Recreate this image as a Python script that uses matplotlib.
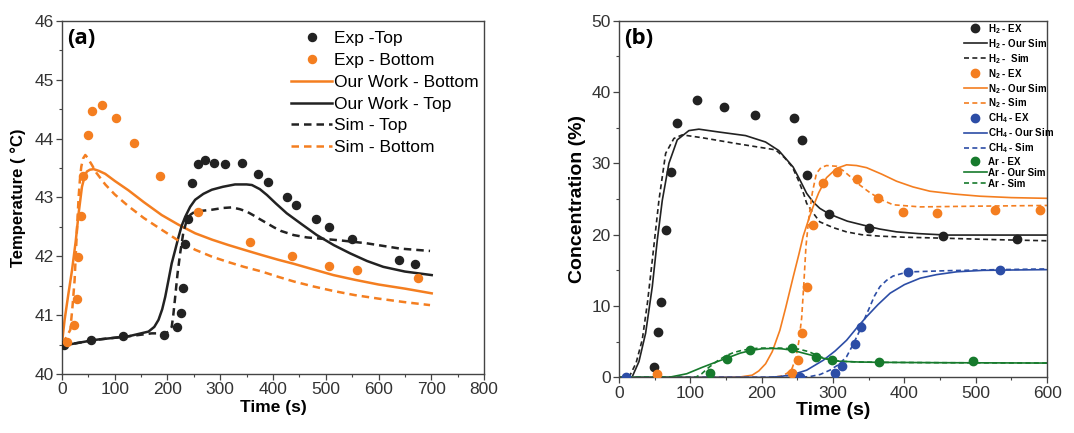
import matplotlib
matplotlib.use('Agg')
import matplotlib.pyplot as plt
from matplotlib.ticker import MultipleLocator

plt.rcParams['font.family'] = ['Liberation Sans', 'DejaVu Sans']
plt.rcParams['mathtext.fontset'] = 'custom'
plt.rcParams['mathtext.rm'] = 'Liberation Sans'
plt.rcParams['mathtext.bf'] = 'Liberation Sans:bold'

ORANGE = '#F47E20'
BLACK = '#222222'
BLUE = '#2C4DA6'
GREEN = '#167A2C'

# ---- panel (a): temperature ----
exp_top_t = [3, 55, 115, 194, 218, 225, 229, 234, 238, 247, 258, 271, 288, 309, 342,
             372, 390, 427, 444, 481, 507, 549, 639, 670]
exp_top_T = [40.49, 40.58, 40.65, 40.66, 40.80, 41.04, 41.46, 42.20, 42.63, 43.25, 43.56,
             43.63, 43.58, 43.57, 43.58, 43.40, 43.26, 43.00, 42.87, 42.64, 42.49, 42.29,
             41.94, 41.87]
exp_bot_t = [10, 23, 28, 30, 36, 39, 48.6, 57.5, 75.8, 101.6, 135.7, 185, 257.6, 356.7,
             436, 505.7, 558.7, 675.5]
exp_bot_T = [40.55, 40.83, 41.27, 41.98, 42.68, 43.36, 44.06, 44.47, 44.57, 44.35, 43.92,
             43.37, 42.76, 42.25, 42.00, 41.84, 41.76, 41.63]

our_bot_t = [0, 5, 12, 19, 26, 31.6, 37.9, 43, 47.3, 53, 60, 70, 82, 100, 126, 155, 189,
             220, 252.5, 285, 315.6, 345, 378.8, 410, 440, 475, 514.5, 555, 600, 650, 700.8]
our_bot_T = [40.52, 40.92, 41.35, 41.76, 42.25, 42.73, 43.18, 43.36, 43.44, 43.47, 43.48,
             43.45, 43.40, 43.28, 43.12, 42.92, 42.70, 42.54, 42.39, 42.28, 42.19, 42.11,
             42.02, 41.94, 41.87, 41.78, 41.68, 41.60, 41.52, 41.45, 41.37]
sim_bot_t = [0, 8, 15.8, 20, 24, 28.4, 31.6, 34, 36.6, 40, 44.2, 48, 52, 56.8, 65, 82,
             100, 126, 155, 189, 220, 252.5, 285, 315.6, 345, 378.8, 410, 440, 475, 514.5,
             555, 600, 650, 697.6]
sim_bot_T = [40.52, 40.62, 40.75, 41.15, 41.60, 42.45, 43.01, 43.30, 43.52, 43.66, 43.72,
             43.68, 43.62, 43.55, 43.42, 43.22, 43.05, 42.85, 42.65, 42.45, 42.27, 42.11,
             41.99, 41.90, 41.82, 41.74, 41.65, 41.57, 41.49, 41.41, 41.34, 41.28, 41.22,
             41.17]

our_top_t = [0, 63, 126, 164, 175, 183, 190, 195.7, 202, 208, 215, 221, 227, 233.6, 243,
             252.5, 268, 284, 305, 328, 350, 360, 375, 388.6, 405, 426, 455, 483, 515,
             546, 578, 609, 650, 700.8]
our_top_T = [40.48, 40.58, 40.64, 40.72, 40.80, 40.92, 41.10, 41.31, 41.60, 41.88, 42.12,
             42.33, 42.52, 42.67, 42.84, 42.96, 43.06, 43.13, 43.18, 43.22, 43.22, 43.21,
             43.14, 43.04, 42.90, 42.73, 42.54, 42.36, 42.19, 42.05, 41.92, 41.82, 41.74,
             41.68]
sim_top_t = [0, 63, 126, 170, 195.7, 202, 208, 211, 214.6, 219, 224, 230, 236.7, 244,
             252.5, 284, 305, 322, 337, 350, 362, 375, 388.6, 402, 415, 439, 464, 489, 527,
             577.6, 641, 697.6]
sim_top_T = [40.48, 40.58, 40.64, 40.69, 40.69, 40.72, 40.80, 41.0, 41.31, 41.70, 42.05,
             42.40, 42.62, 42.71, 42.76, 42.79, 42.82, 42.83, 42.80, 42.76, 42.70, 42.63,
             42.56, 42.49, 42.43, 42.36, 42.32, 42.30, 42.27, 42.22, 42.13, 42.09]

# ---- panel (b): concentration ----
h2_ex_t = [48.6, 55, 58.4, 65.8, 72.8, 80.8, 108.8, 147.5, 191, 245, 256, 263, 293.7,
           349.7, 453.4, 558]
h2_ex_c = [1.5, 6.4, 10.5, 20.6, 28.8, 35.6, 38.9, 37.85, 36.8, 36.4, 33.3, 28.4, 22.85,
           20.9, 19.86, 19.4]
h2_our_t = [18.7, 28, 37.4, 46.7, 53.7, 60.7, 70, 81.7, 98, 112, 140, 177.4, 205.4, 224,
            244, 254, 263, 272, 281.4, 293, 304.7, 320, 342, 365, 389, 420, 459, 520, 600]
h2_our_c = [0.1, 2.2, 6.2, 12.7, 19.2, 24.8, 30.0, 33.3, 34.6, 34.8, 34.4, 33.9, 33.0,
            31.8, 29.5, 27.6, 25.8, 24.6, 23.7, 23.0, 22.5, 21.9, 21.35, 20.8, 20.4, 20.15,
            19.95, 19.95, 19.95]
h2_sim_t = [14, 24, 32.7, 40, 46.7, 56, 65.4, 77, 88.7, 116.7, 163.4, 219.5, 232, 243,
            252, 259, 263, 271, 281.4, 300, 318.7, 340, 365.4, 400, 459, 530, 600]
h2_sim_c = [0, 2.0, 5.3, 10.5, 16.4, 24.8, 31.4, 33.5, 34.0, 33.6, 32.8, 31.9, 30.8,
            29.5, 27.5, 25.7, 24.4, 23.2, 21.8, 21.0, 20.4, 20.0, 19.8, 19.65, 19.5, 19.3,
            19.15]

n2_ex_t = [53.7, 242, 251, 256, 263, 271.7, 285.7, 306, 334, 363, 398, 445, 527, 589.7]
n2_ex_c = [0.47, 0.56, 2.43, 6.26, 12.66, 21.4, 27.3, 28.8, 27.8, 25.2, 23.2, 23.0, 23.46,
           23.46]
n2_our_t = [0, 150, 170, 186.7, 196, 205.5, 214.8, 225.5, 233.5, 244.2, 252, 258.2, 266,
            272, 280, 290.9, 305, 319, 333, 347, 368, 389, 412, 435.6, 470, 505.6, 550, 600]
n2_our_c = [0, 0, 0.05, 0.3, 0.9, 1.9, 3.6, 6.6, 9.7, 14.1, 17.2, 19.8, 22.2, 23.9, 25.9,
            28.0, 29.3, 29.8, 29.7, 29.4, 28.5, 27.5, 26.7, 26.1, 25.7, 25.4, 25.2, 25.1]
n2_sim_t = [0, 215, 228.8, 236, 242.8, 248, 252, 256, 259, 262, 266, 271, 276.7, 283,
            290.9, 305, 314, 323.5, 337, 351.6, 368, 384, 422, 500, 600]
n2_sim_c = [0, 0, 0.2, 0.6, 1.3, 2.8, 5.0, 8.3, 13.0, 18.3, 22.3, 25.9, 28.6, 29.4, 29.7,
            29.6, 29.0, 28.2, 27.0, 25.9, 24.9, 24.2, 23.9, 24.0, 24.1]

ch4_ex_t = [9.3, 253.5, 303, 313, 330.6, 339, 404.4, 534]
ch4_ex_c = [0, 0.1, 0.56, 1.6, 4.7, 7.06, 14.8, 15.05]
ch4_our_t = [0, 207, 225.5, 244, 263, 286.4, 303, 319, 333, 347, 363, 380, 400, 422, 445,
             473.5, 510, 550, 600]
ch4_our_c = [0, 0, 0.1, 0.4, 1.0, 2.4, 3.7, 5.2, 6.9, 8.5, 10.2, 11.8, 13.0, 13.9, 14.4,
             14.8, 15.0, 15.05, 15.1]
ch4_sim_t = [0, 250, 267.5, 282, 295.5, 308, 319, 328, 337.6, 345, 351.6, 358, 365.6,
             375, 384, 398, 412, 459, 530, 600]
ch4_sim_c = [0, 0, 0.1, 0.4, 1.0, 1.8, 2.9, 4.6, 6.6, 8.4, 9.9, 11.4, 12.7, 13.6, 14.2,
             14.6, 14.8, 14.95, 15.1, 15.2]

ar_ex_t = [127.5, 152, 183.5, 243, 276, 299, 364.7, 496]
ar_ex_c = [0.56, 2.57, 3.83, 4.1, 2.8, 2.4, 2.2, 2.24]
ar_our_t = [0, 70, 95, 116.7, 135, 154, 170, 186.8, 200, 214.8, 228, 243, 262, 281.4,
            296, 309.5, 335, 365.6, 450, 600]
ar_our_c = [0, 0, 0.5, 1.4, 2.1, 2.8, 3.4, 3.8, 4.0, 4.05, 4.0, 3.8, 3.3, 2.8, 2.45,
            2.25, 2.15, 2.1, 2.05, 2.0]
ar_sim_t = [0, 107.4, 116, 126, 138, 149.4, 160, 172.8, 196, 225, 252, 266, 281.4, 296,
            309.5, 335, 365.6, 450, 600]
ar_sim_c = [0, 0, 0.5, 1.4, 2.3, 3.0, 3.45, 3.8, 4.1, 4.1, 3.95, 3.6, 2.9, 2.45, 2.25,
            2.15, 2.1, 2.05, 2.0]

fig = plt.figure(figsize=(10.74, 4.33), dpi=100)
ax1 = fig.add_axes([0.0577, 0.1363, 0.393, 0.8157])
ax2 = fig.add_axes([0.5763, 0.1286, 0.3987, 0.8234])

dash = (0, (3, 2))

# panel a
ax1.plot(exp_top_t, exp_top_T, 'o', color=BLACK, ms=5.8, label='Exp -Top', zorder=4)
ax1.plot(exp_bot_t, exp_bot_T, 'o', color=ORANGE, ms=5.8, label='Exp - Bottom', zorder=4)
ax1.plot(our_bot_t, our_bot_T, '-', color=ORANGE, lw=1.8, label='Our Work - Bottom')
ax1.plot(our_top_t, our_top_T, '-', color=BLACK, lw=1.8, label='Our Work - Top')
ax1.plot(sim_top_t, sim_top_T, color=BLACK, lw=1.8, ls=dash, label='Sim - Top')
ax1.plot(sim_bot_t, sim_bot_T, color=ORANGE, lw=1.8, ls=dash, label='Sim - Bottom')

ax1.set_xlim(0, 800)
ax1.set_ylim(40, 46)
ax1.xaxis.set_major_locator(MultipleLocator(100))
ax1.xaxis.set_minor_locator(MultipleLocator(50))
ax1.yaxis.set_major_locator(MultipleLocator(1))
ax1.yaxis.set_minor_locator(MultipleLocator(0.5))
ax1.set_xlabel('Time (s)', fontsize=12.5, fontweight='bold', labelpad=2)
ax1.set_ylabel('Temperature ( °C)', fontsize=12, fontweight='bold', labelpad=6)
ax1.text(0.012, 0.98, '(a)', transform=ax1.transAxes, fontsize=16, fontweight='bold',
         family=['Open Sans', 'DejaVu Sans'], va='top', ha='left')
ax1.legend(loc='upper right', frameon=False, fontsize=12.5, handlelength=2.4,
           handletextpad=0.1, labelspacing=0.38, borderaxespad=0.2,
           bbox_to_anchor=(1.012, 1.0))

# panel b
ax2.plot(h2_ex_t, h2_ex_c, 'o', color=BLACK, ms=6, label=r'H$_\mathbf{2}$ - EX', zorder=4)
ax2.plot(h2_our_t, h2_our_c, '-', color=BLACK, lw=1.2, label=r'H$_\mathbf{2}$ - Our Sim')
ax2.plot(h2_sim_t, h2_sim_c, color=BLACK, lw=1.2, ls=dash, label=r'H$_\mathbf{2}$ -  Sim')
ax2.plot(n2_ex_t, n2_ex_c, 'o', color=ORANGE, ms=6, label=r'N$_\mathbf{2}$ - EX', zorder=4)
ax2.plot(n2_our_t, n2_our_c, '-', color=ORANGE, lw=1.2, label=r'N$_\mathbf{2}$ - Our Sim')
ax2.plot(n2_sim_t, n2_sim_c, color=ORANGE, lw=1.2, ls=dash, label=r'N$_\mathbf{2}$ - Sim')
ax2.plot(ch4_ex_t, ch4_ex_c, 'o', color=BLUE, ms=6, label=r'CH$_\mathbf{4}$ - EX', zorder=4)
ax2.plot(ch4_our_t, ch4_our_c, '-', color=BLUE, lw=1.2, label=r'CH$_\mathbf{4}$ - Our Sim')
ax2.plot(ch4_sim_t, ch4_sim_c, color=BLUE, lw=1.2, ls=dash, label=r'CH$_\mathbf{4}$ - Sim')
ax2.plot(ar_ex_t, ar_ex_c, 'o', color=GREEN, ms=6, label='Ar - EX', zorder=4)
ax2.plot(ar_our_t, ar_our_c, '-', color=GREEN, lw=1.2, label='Ar - Our Sim')
ax2.plot(ar_sim_t, ar_sim_c, color=GREEN, lw=1.2, ls=dash, label='Ar - Sim')

ax2.set_xlim(0, 600)
ax2.set_ylim(0, 50)
ax2.xaxis.set_major_locator(MultipleLocator(100))
ax2.xaxis.set_minor_locator(MultipleLocator(50))
ax2.yaxis.set_major_locator(MultipleLocator(10))
ax2.yaxis.set_minor_locator(MultipleLocator(5))
ax2.set_xlabel('Time (s)', fontsize=14, fontweight='bold', labelpad=1)
ax2.set_ylabel('Concentration (%)', fontsize=14, fontweight='bold', labelpad=4)
ax2.text(0.012, 0.98, '(b)', transform=ax2.transAxes, fontsize=16, fontweight='bold',
         family=['Open Sans', 'DejaVu Sans'], va='top', ha='left')
ax2.legend(loc='upper right', frameon=False, handlelength=2.4,
           handletextpad=0.15, labelspacing=0.12, borderaxespad=0.15,
           prop={'size': 7, 'weight': 'bold'}, bbox_to_anchor=(1.03, 1.012))

for ax in (ax1, ax2):
    for s in ax.spines.values():
        s.set_color('#444444')
        s.set_linewidth(1.0)
    ax.tick_params(which='major', direction='out', length=4, width=0.9, color='#444444',
                   labelsize=12.5, pad=2)
    ax.tick_params(which='minor', direction='out', length=2, width=0.8, color='#444444')
    for lbl in ax.get_xticklabels() + ax.get_yticklabels():
        lbl.set_color('#333333')

fig.savefig('out.png', dpi=100)
